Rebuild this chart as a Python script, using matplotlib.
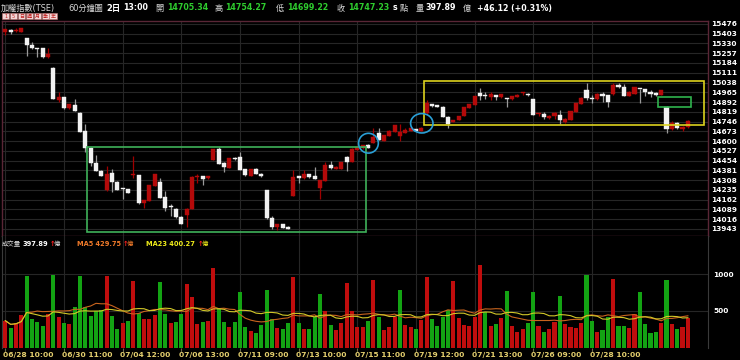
import numpy as np
import pandas as pd
import matplotlib.pyplot as plt
from matplotlib.patches import Rectangle, Ellipse
from matplotlib import transforms

plt.rcParams['font.family'] = ['DejaVu Sans', 'Noto Sans CJK TC']

# 60-minute bars, 06/28 10:00 -> 08/02 13:00
opens = [15414, 15433, 15422, 15418, 15369, 15319, 15292, 15294, 15227, 15149,
         14908, 14928, 14845, 14870, 14813, 14673, 14551, 14434, 14379, 14234,
         14359, 14296, 14241, 14240, 14343, 14347, 14135, 14154, 14267, 14292,
         14182, 14111, 14095, 14035, 14047, 14095, 14332, 14337, 14322, 14459,
         14539, 14439, 14401, 14476, 14483, 14389, 14341, 14394, 14354, 14234,
         14027, 13960, 13980, 13958, 14192, 14339, 14322, 14352, 14341, 14247,
         14304, 14421, 14391, 14391, 14483, 14446, 14534, 14546, 14573, 14586,
         14663, 14603, 14641, 14670, 14638, 14663, 14676, 14688, 14676, 14808,
         14878, 14870, 14858, 14783, 14743, 14758, 14788, 14850, 14870, 14958,
         14938, 14932, 14945, 14928, 14915, 14913, 14932, 14956, 14955, 14915,
         14799, 14803, 14771, 14788, 14795, 14743, 14758, 14820, 14878, 14982,
         14917, 14913, 14950, 14945, 14950, 15022, 15007, 14940, 14953, 14990,
         14990, 14967, 14960, 14945, 14858, 14688, 14738, 14691, 14705.34]
highs = [15441, 15441, 15444, 15448, 15371, 15339, 15296, 15296, 15294, 15152,
         14970, 14932, 14878, 14915, 14816, 14728, 14553, 14496, 14381, 14416,
         14389, 14298, 14247, 14244, 14491, 14349, 14162, 14275, 14355, 14322,
         14229, 14127, 14098, 14037, 14098, 14337, 14354, 14339, 14342, 14544,
         14558, 14441, 14474, 14479, 14521, 14391, 14394, 14396, 14362, 14237,
         14040, 13983, 13983, 13965, 14384, 14341, 14384, 14355, 14406, 14312,
         14446, 14451, 14412, 14446, 14486, 14546, 14561, 14573, 14576, 14696,
         14696, 14648, 14681, 14720, 14726, 14696, 14698, 14691, 14703, 14908,
         14880, 14873, 14861, 14785, 14761, 14791, 14855, 14878, 14940, 14999,
         14970, 14970, 14948, 14955, 14920, 14938, 14950, 14970, 14958, 14918,
         14810, 14820, 14793, 14815, 14833, 14770, 14828, 14885, 14928, 15037,
         14945, 14958, 14965, 14948, 15032, 15032, 15025, 14973, 15005, 14992,
         14993, 14980, 14970, 14985, 14861, 14750, 14741, 14711, 14754.27]
lows = [15394, 15401, 15416, 15416, 15239, 15289, 15231, 15225, 15225, 14912,
        14895, 14842, 14840, 14822, 14665, 14521, 14414, 14376, 14338, 14230,
        14217, 14231, 14167, 14212, 14322, 14132, 14102, 14150, 14264, 14174,
        14079, 14040, 14027, 13980, 13955, 14092, 14289, 14274, 14320, 14456,
        14427, 14371, 14398, 14461, 14381, 14341, 14338, 14350, 14332, 14020,
        13940, 13935, 13947, 13940, 14190, 14289, 14320, 14327, 14316, 14165,
        14302, 14394, 14389, 14389, 14376, 14444, 14531, 14543, 14549, 14583,
        14606, 14601, 14638, 14668, 14603, 14660, 14673, 14676, 14673, 14806,
        14853, 14855, 14780, 14696, 14741, 14756, 14785, 14848, 14868, 14908,
        14913, 14908, 14908, 14925, 14857, 14910, 14930, 14945, 14940, 14793,
        14785, 14763, 14768, 14763, 14728, 14733, 14756, 14818, 14875, 14908,
        14887, 14910, 14895, 14857, 14948, 14995, 14935, 14937, 14950, 14883,
        14937, 14932, 14937, 14942, 14663, 14686, 14693, 14678, 14699.22]
closes = [15439, 15418, 15425, 15446, 15319, 15294, 15290, 15227, 15249, 14915,
          14928, 14845, 14875, 14825, 14668, 14551, 14434, 14379, 14341, 14354,
          14294, 14234, 14238, 14214, 14346, 14135, 14160, 14272, 14352, 14177,
          14102, 14108, 14030, 13982, 14095, 14334, 14336, 14319, 14339, 14541,
          14429, 14404, 14471, 14464, 14384, 14344, 14391, 14352, 14341, 14023,
          13960, 13980, 13950, 13945, 14334, 14322, 14356, 14329, 14319, 14309,
          14421, 14396, 14409, 14444, 14446, 14543, 14558, 14571, 14551, 14628,
          14608, 14646, 14678, 14718, 14670, 14683, 14696, 14678, 14701, 14883,
          14863, 14858, 14783, 14728, 14758, 14788, 14853, 14875, 14937, 14937,
          14934, 14950, 14928, 14952, 14911, 14935, 14947, 14960, 14943, 14795,
          14803, 14778, 14790, 14813, 14758, 14768, 14825, 14883, 14925, 14920,
          14914, 14955, 14937, 14890, 15020, 15005, 14937, 14970, 15003, 14986,
          14965, 14952, 14947, 14982, 14688, 14733, 14696, 14708, 14747.23]
# volume in 億
volumes = [368, 268, 341, 445, 977, 387, 346, 300, 455, 990,
           414, 341, 323, 550, 977, 558, 432, 504, 518, 977,
           432, 255, 336, 359, 913, 468, 391, 391, 441, 899,
           455, 332, 354, 455, 868, 686, 323, 346, 368, 1086,
           536, 354, 278, 346, 754, 278, 223, 196, 305, 782,
           387, 264, 255, 341, 967, 341, 259, 259, 414, 735,
           500, 309, 241, 332, 877, 496, 286, 286, 359, 922,
           422, 241, 278, 422, 786, 309, 278, 251, 377, 959,
           387, 296, 422, 513, 913, 409, 309, 296, 422, 1126,
           490, 296, 323, 409, 772, 296, 218, 251, 332, 754,
           296, 218, 251, 354, 704, 323, 278, 273, 332, 990,
           364, 218, 241, 422, 936, 296, 296, 273, 459, 754,
           323, 204, 209, 341, 922, 319, 255, 278, 397.89]

time_labels = ['06/28 10:00', '06/30 11:00', '07/04 12:00', '07/06 13:00',
               '07/11 09:00', '07/13 10:00', '07/15 11:00', '07/19 12:00',
               '07/21 13:00', '07/26 09:00', '07/28 10:00']
label_every = 11
price_ticks = [15476, 15403, 15330, 15257, 15184, 15111, 15038, 14965, 14892,
               14819, 14746, 14673, 14600, 14527, 14454, 14381, 14308, 14235,
               14162, 14089, 14016, 13943]
vol_ticks = [500, 1000]

W, H = 740, 360
RED = '#b40a0a'
WHITE = '#f2f2f2'
VGREEN = '#13a313'
VRED = '#c00d0d'
GRID = '#262626'


def px_rect(l, t, r, b):
    return [l / W, 1 - b / H, (r - l) / W, (b - t) / H]


fig = plt.figure(figsize=(7.4, 3.6), dpi=100, facecolor='black')
ax = fig.add_axes(px_rect(2, 21, 708, 236))
axv = fig.add_axes(px_rect(2, 236, 708, 347.7), sharex=ax)

x = np.arange(len(closes))
o = np.array(opens); c = np.array(closes)
h = np.array(highs); l = np.array(lows)
up = c >= o
# volume bars are coloured by the change against the previous close
prev_close = np.concatenate([[c[0]], c[:-1]])
vup = c >= prev_close

for a in (ax, axv):
    a.set_facecolor('black')
    a.set_xlim(-0.62, 131.77)

# ---- price panel
ax.set_ylim(13890, 15498)
ax.vlines(x[up], l[up], h[up], color='#a00000', lw=0.9, zorder=2)
ax.vlines(x[~up], l[~up], h[~up], color='#9a9a9a', lw=0.9, zorder=2)
body_lo = np.minimum(o, c)
body_h = np.maximum(np.abs(c - o), 8)
ax.bar(x[up], body_h[up], 0.78, bottom=body_lo[up], color=RED, edgecolor=RED, lw=0.3, zorder=3)
ax.bar(x[~up], body_h[~up], 0.78, bottom=body_lo[~up], color=WHITE, edgecolor=WHITE, lw=0.3, zorder=3)

ax.yaxis.tick_right()
ax.set_yticks(price_ticks)
ax.tick_params(axis='y', length=0, pad=2.5, labelsize=5.3, labelcolor='white')
for lbl in ax.get_yticklabels():
    lbl.set_fontweight('bold')
ax.grid(True, color=GRID, lw=0.8, zorder=0)
ax.tick_params(axis='x', length=0, labelbottom=False)
for s in ax.spines.values():
    s.set_color('#5a2636')
    s.set_linewidth(1.0)

# annotations drawn on the chart
ax.add_patch(Rectangle((15.4, 13922), 52.2, 636, fill=False, ec='#3fb15a', lw=1.2, zorder=4))
ax.add_patch(Rectangle((78.45, 14720), 52.6, 332, fill=False, ec='#dcd21e', lw=1.2, zorder=4, clip_on=False))
ax.add_patch(Rectangle((122.4, 14857), 6.2, 71, fill=False, ec='#2fb34e', lw=1.2, zorder=4))
ax.add_patch(Ellipse((68.1, 14584), 3.7, 148, fill=False, ec='#2a9fd6', lw=1.2, zorder=4))
ax.add_patch(Ellipse((78.1, 14733), 4.2, 145, fill=False, ec='#2a9fd6', lw=1.2, zorder=4))

# ---- volume panel
vol = np.array(volumes)
axv.set_ylim(0, 1521)
axv.bar(x[vup], vol[vup], 0.78, color=VRED, zorder=3)
axv.bar(x[~vup], vol[~vup], 0.78, color=VGREEN, zorder=3)
vs = pd.Series(volumes)
axv.plot(x, vs.rolling(5, min_periods=1).mean(), color='#c8641e', lw=0.8, zorder=4)
axv.plot(x, vs.rolling(23, min_periods=1).mean(), color='#d2c828', lw=0.8, zorder=4)
axv.yaxis.tick_right()
axv.set_yticks(vol_ticks)
axv.tick_params(axis='y', length=0, pad=4, labelsize=5.3, labelcolor='white')
for lbl in axv.get_yticklabels():
    lbl.set_fontweight('bold')
axv.grid(True, color=GRID, lw=0.8, zorder=0)
label_idx = np.arange(len(time_labels)) * label_every
axv.set_xticks(label_idx)
axv.tick_params(axis='x', length=3, width=0.8, color='#6f6a48', labelbottom=False)
for s in ('top', 'bottom'):
    axv.spines[s].set_visible(False)
for s in ('left', 'right'):
    axv.spines[s].set_color('#3a3a3a')

tr = transforms.blended_transform_factory(axv.transData, axv.transAxes)
for i, lab in zip(label_idx, time_labels):
    axv.text(i - 0.45, -0.066, lab, transform=tr, ha='left', va='center',
             fontsize=5.4, fontweight='bold', color='#e4cf6e', clip_on=False)

# ---- header
def htext(xpx, ypx, s, color, size, bold=False):
    fig.text(xpx / W, 1 - ypx / H, s, color=color, fontsize=size,
             fontweight='bold' if bold else 'normal', ha='left', va='center')

GRAY = '#d8d8d8'
NUMG = '#2ecc2e'
NS = 5.7
htext(1, 8, '加權指數(TSE)', GRAY, 5.9)
htext(68, 8, '60分鐘圖', GRAY, 5.9)
htext(106, 8, '2日', 'white', 6.0, True)
htext(123, 8, '13:00', 'white', NS, True)
htext(155, 8, '開', GRAY, 5.9)
htext(167, 8, '14705.34', NUMG, NS, True)
htext(215, 8, '高', GRAY, 5.9)
htext(225, 8, '14754.27', NUMG, NS, True)
htext(276, 8, '低', GRAY, 5.9)
htext(287, 8, '14699.22', NUMG, NS, True)
htext(337, 8, '收', GRAY, 5.9)
htext(348, 8, '14747.23', NUMG, NS, True)
htext(393, 8, 's', 'white', NS, True)
htext(400, 8, '點', GRAY, 5.9)
htext(416, 8, '量', GRAY, 5.9)
htext(425, 8, '397.89', 'white', NS, True)
htext(463, 8, '億', GRAY, 5.9)
htext(477, 8, '+46.12 (+0.31%)', 'white', NS, True)

# period buttons
for k, s in enumerate(['1', '5', '日', '週', '月', '季', '年']):
    x0 = 2 + k * 7.9
    fig.patches.append(Rectangle((x0 / W, 1 - 19 / H), 7.2 / W, 6 / H, transform=fig.transFigure,
                                 facecolor='#f3d6d6', edgecolor='#c07070', lw=0.4))
    fig.text((x0 + 3.6) / W, 1 - 16 / H, s, color='#c02020', fontsize=3.6, ha='center', va='center')

# volume legend row
htext(2, 244, '成交量', GRAY, 4.6)
htext(23, 244, '397.89', 'white', 4.8, True)
htext(49.5, 244, '↑', '#ff2020', 4.8, True)
htext(53.5, 244, '億', GRAY, 4.6)
htext(77, 244, 'MA5 429.75', '#f07a2a', 4.8, True)
htext(122.5, 244, '↑', '#ff2020', 4.8, True)
htext(126.5, 244, '億', '#f07a2a', 4.6)
htext(146, 244, 'MA23 400.27', '#f0ec1a', 4.8, True)
htext(197.5, 244, '↑', '#ff2020', 4.8, True)
htext(201.5, 244, '億', '#f0ec1a', 4.6)

fig.savefig('out.png', dpi=100, facecolor='black')
